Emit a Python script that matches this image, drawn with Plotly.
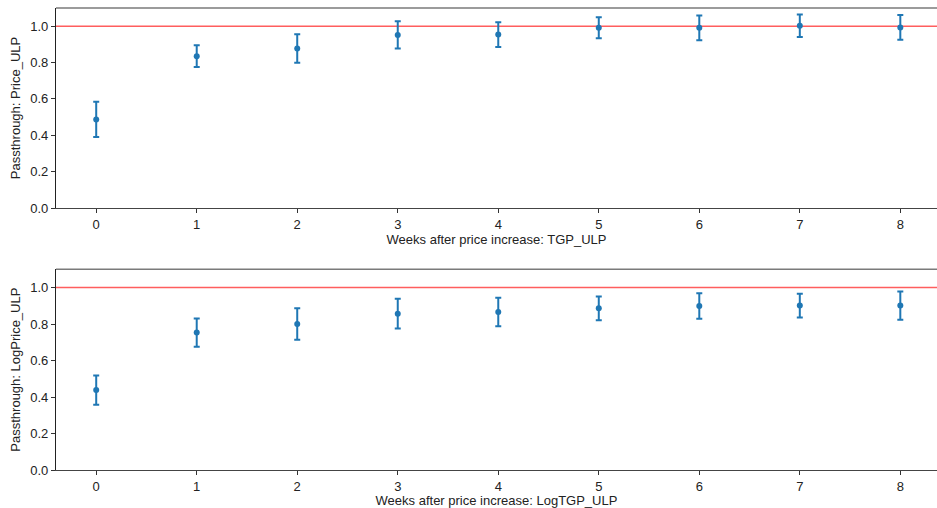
import plotly.graph_objects as go

# Weeks after the wholesale (TGP) price increase
weeks = [0, 1, 2, 3, 4, 5, 6, 7, 8]

# Passthrough estimates, levels model
price_coef = [0.487, 0.835, 0.877, 0.952, 0.954, 0.991, 0.991, 1.002, 0.993]
price_err = [0.097, 0.060, 0.078, 0.075, 0.068, 0.058, 0.068, 0.062, 0.068]

# Passthrough estimates, log model
logprice_coef = [0.438, 0.753, 0.800, 0.857, 0.866, 0.886, 0.899, 0.901, 0.901]
logprice_err = [0.080, 0.077, 0.086, 0.081, 0.078, 0.065, 0.070, 0.065, 0.078]

yticks = [0.0, 0.2, 0.4, 0.6, 0.8, 1.0]
ytick_text = ["0.0", "0.2", "0.4", "0.6", "0.8", "1.0"]

panels = [
    ("x", "y", price_coef, price_err,
     "Passthrough: Price_ULP", "Weeks after price increase: TGP_ULP", 4),
    ("x2", "y2", logprice_coef, logprice_err,
     "Passthrough: LogPrice_ULP", "Weeks after price increase: LogTGP_ULP", 6),
]

BLUE = "#1f77b4"
FONT = dict(family="Liberation Sans, Arial, sans-serif", size=13, color="#222")

W, H = 937, 508
x_dom = [56 / W, 1.0]
y_doms = [[(H - 208) / H, (H - 8) / H], [(H - 470) / H, (H - 269.3) / H]]

fig = go.Figure()
shapes = []
for i, (xa, ya, coef, err, ytitle, xtitle, xstand) in enumerate(panels):
    fig.add_trace(go.Scatter(
        x=weeks, y=coef, xaxis=xa, yaxis=ya, mode="markers",
        marker=dict(color=BLUE, size=6),
        error_y=dict(type="data", array=err, visible=True,
                     color=BLUE, thickness=2, width=3),
        showlegend=False,
    ))
    sfx = "" if i == 0 else "2"
    # reference line at full passthrough
    shapes.append(dict(type="line", xref=f"x{sfx} domain", yref=ya,
                       x0=0, x1=1, y0=1, y1=1,
                       line=dict(color="rgba(255,40,40,0.75)", width=1.6),
                       layer="below"))
    # top frame line
    shapes.append(dict(type="line", xref=f"x{sfx} domain", yref=f"y{sfx} domain",
                       x0=0, x1=1, y0=1, y1=1,
                       line=dict(color="#7a7a7a", width=1.6)))
    fig.layout[f"xaxis{sfx}"] = dict(
        domain=x_dom, anchor=ya, range=[-0.4, 8.365], automargin=False,
        tickmode="array", tickvals=weeks, ticktext=[str(w) for w in weeks],
        ticks="outside", ticklen=4, tickcolor="#333", tickwidth=1,
        showline=True, linecolor="#444", linewidth=1.3,
        showgrid=False, zeroline=False, tickfont=FONT,
        title=dict(text=xtitle, font=FONT, standoff=xstand),
    )
    fig.layout[f"yaxis{sfx}"] = dict(
        domain=y_doms[i], anchor=xa, range=[0, 1.1], automargin=False,
        tickmode="array", tickvals=yticks, ticktext=ytick_text,
        ticks="outside", ticklen=4, tickcolor="#333", tickwidth=1,
        showline=True, linecolor="#222", linewidth=1.2,
        showgrid=False, zeroline=False, tickfont=FONT,
        title=dict(text=ytitle, font=FONT, standoff=6),
    )

fig.update_layout(
    width=W, height=H,
    margin=dict(l=0, r=0, t=0, b=0),
    paper_bgcolor="white", plot_bgcolor="white",
    shapes=shapes, font=FONT,
)

fig.write_html("out.html")
